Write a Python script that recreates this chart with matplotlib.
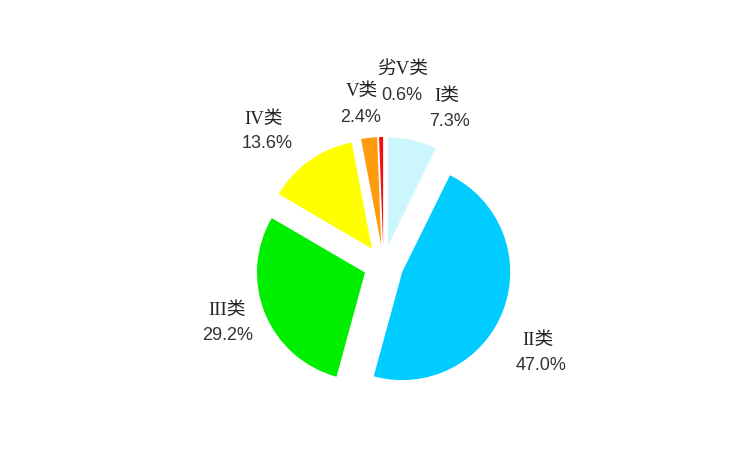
import matplotlib
matplotlib.use('Agg')
import matplotlib.pyplot as plt

# water quality class shares (%)
categories = ['I类', 'II类', 'III类', 'IV类', 'V类', '劣V类']
shares = [7.3, 47.0, 29.2, 13.6, 2.4, 0.6]
colors = ['#CCF6FD', '#00CCFF', '#00EE00', '#FFFF00', '#FF9B0F', '#F01010']

W, H = 756, 466
fig = plt.figure(figsize=(W / 100, H / 100), dpi=100)
ax = fig.add_axes([0, 0, 1, 1])
ax.set_xlim(0, W)
ax.set_ylim(0, H)
ax.set_aspect('equal')
ax.axis('off')

# pie geometry in pixel units (y measured from top of picture)
cx, cy, r, gap = 383.5, 265, 108, 20
ax.pie(shares, colors=colors, startangle=90, counterclock=False,
       center=(cx, H - cy), radius=r, explode=[gap] * len(shares),
       wedgeprops=dict(linewidth=0), frame=True)
ax.set_xlim(0, W)
ax.set_ylim(0, H)
ax.axis('off')

# label block centres (x, y of first line), pixels from top-left
label_pos = [(447, 96), (538, 340), (227, 310), (264, 119), (362, 91), (403, 69)]
pct_pos = [(449, 121), (541, 366), (228, 336), (267, 144), (361, 118), (402, 96)]

for name, val, (lx, ly), (px, py) in zip(categories, shares, label_pos, pct_pos):
    ax.text(lx, H - ly, name, ha='center', va='center', fontsize=13.5,
            family=['Liberation Serif', 'Noto Sans CJK SC'], color='#222222')
    ax.text(px, H - py, f'{val:.1f}%', ha='center', va='center', fontsize=13,
            family=['Liberation Sans'], color='#333333')

fig.savefig('out.png', dpi=100)
